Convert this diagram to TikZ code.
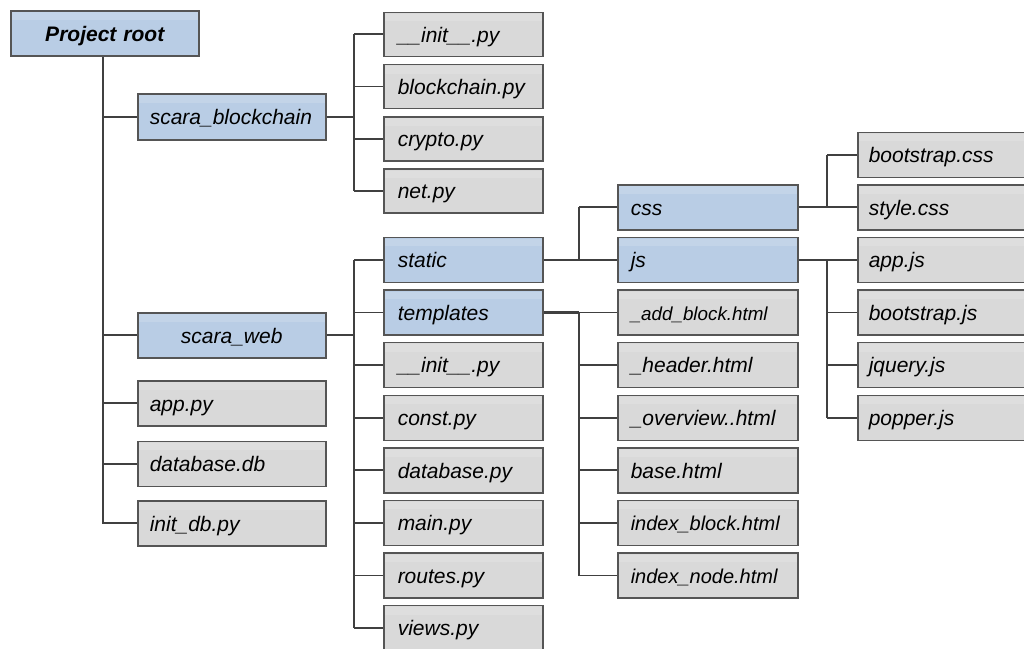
\documentclass[tikz,border=0pt]{standalone}
\usepackage{fontspec}
\setmainfont{Liberation Sans}
\definecolor{grayfill}{HTML}{D9D9D9}
\definecolor{bluefill}{HTML}{B9CDE5}
\definecolor{bordercol}{HTML}{555555}
\definecolor{linecol}{HTML}{404040}
\tikzset{
  box/.style={draw=bordercol, line width=1.5pt, anchor=north west, inner ysep=0pt,
    text height=15.5pt, text depth=0pt, minimum height=45pt,
    font=\fontsize{21}{24}\selectfont\itshape, align=left,
    path picture={\fill[white,opacity=0.15] ([yshift=-1.5pt]path picture bounding box.north west) rectangle ([yshift=-9pt]path picture bounding box.north east);}},
  gbox/.style={box, fill=grayfill},
  bbox/.style={box, fill=bluefill},
  colA/.style={inner xsep=12pt, text width=164pt},
  colAc/.style={inner xsep=12pt, text width=164pt, align=center},
  colB/.style={inner xsep=14pt, text width=131pt},
  colC/.style={inner xsep=13pt, text width=154pt},
  colD/.style={inner xsep=11pt, text width=158pt},
  conn/.style={draw=linecol, line width=1.8pt}
}
\begin{document}
\begin{tikzpicture}[x=1pt,y=-1pt]
\useasboundingbox (0,0) rectangle (1024,648);
\clip (0,0) rectangle (1024,648);
\fill[white] (0,0) rectangle (1024,648);
% root and first level
\node[bbox, colAc, font=\fontsize{21}{24}\selectfont\bfseries\itshape] (root) at (10,10) {Project root};
\node[bbox, colA, minimum height=46pt] (sb) at (137,93) {scara\_blockchain};
\node[bbox, colAc] (sw) at (137,312) {scara\_web};
\node[gbox, colA] (apppy) at (137,380) {app.py};
\node[gbox, colA] (dbdb) at (137,440.5) {database.db};
\node[gbox, colA] (initdb) at (137,500) {init\_db.py};
% scara_blockchain files
\node[gbox, colB, minimum height=44pt] (i1) at (383,11.5) {\_\_init\_\_.py};
\node[gbox, colB, minimum height=44pt] (bc) at (383,63.8) {blockchain.py};
\node[gbox, colB, minimum height=44pt] (cr) at (383,116.1) {crypto.py};
\node[gbox, colB, minimum height=44pt] (net) at (383,168.4) {net.py};
% scara_web content
\node[bbox, colB] (static) at (383,236.7) {static};
\node[bbox, colB] (templates) at (383,289.3) {templates};
\node[gbox, colB] (i2) at (383,341.9) {\_\_init\_\_.py};
\node[gbox, colB] (const) at (383,394.5) {const.py};
\node[gbox, colB] (dbpy) at (383,447.1) {database.py};
\node[gbox, colB] (main) at (383,499.7) {main.py};
\node[gbox, colB] (routes) at (383,552.3) {routes.py};
\node[gbox, colB] (views) at (383,604.9) {views.py};
% static / templates content
\node[bbox, colC] (css) at (617,184.1) {css};
\node[bbox, colC] (js) at (617,236.7) {js};
\node[gbox, colC, font=\fontsize{18.8}{22}\selectfont\itshape] (addb) at (617,289.3) {\_add\_block.html};
\node[gbox, colC] (header) at (617,341.9) {\_header.html};
\node[gbox, colC] (overview) at (617,394.5) {\_overview..html};
\node[gbox, colC] (base) at (617,447.1) {base.html};
\node[gbox, colC, font=\fontsize{20}{23}\selectfont\itshape] (iblock) at (617,499.7) {index\_block.html};
\node[gbox, colC, font=\fontsize{20}{23}\selectfont\itshape] (inode) at (617,552.3) {index\_node.html};
% css / js content
\node[gbox, colD] (bcss) at (857,131.5) {bootstrap.css};
\node[gbox, colD] (scss) at (857,184.1) {style.css};
\node[gbox, colD] (appjs) at (857,236.7) {app.js};
\node[gbox, colD] (bjs) at (857,289.3) {bootstrap.js};
\node[gbox, colD] (jq) at (857,341.9) {jquery.js};
\node[gbox, colD] (pop) at (857,394.5) {popper.js};
% branch x positions
\coordinate (tx) at (103,0);
\coordinate (bx1) at (354,0);
\coordinate (bx2) at (579,0);
\coordinate (bx4) at (827,0);
% trunk
\draw[conn] (root.south -| tx) -- (tx |- initdb.west) -- (initdb.west);
\foreach \n in {sb,sw,apppy,dbdb} \draw[conn] (tx |- \n.west) -- (\n.west);
% scara_blockchain
\draw[conn] (sb.east) -- (bx1 |- sb.east);
\draw[conn] (bx1 |- i1.west) -- (bx1 |- net.west);
\foreach \n in {i1,bc,cr,net} \draw[conn] (bx1 |- \n.west) -- (\n.west);
% scara_web
\draw[conn, line width=2.4pt] (sw.east) -- (bx1 |- sw.east);
\draw[conn] (bx1 |- static.west) -- (bx1 |- views.west);
\foreach \n in {static,templates,i2,const,dbpy,main,routes,views} \draw[conn] (bx1 |- \n.west) -- (\n.west);
% static
\draw[conn] (static.east) -- (bx2 |- static.east);
\draw[conn] (bx2 |- css.west) -- (bx2 |- js.west);
\foreach \n in {css,js} \draw[conn] (bx2 |- \n.west) -- (\n.west);
% templates
\draw[conn, line width=2.4pt] (templates.east) -- (bx2 |- templates.east);
\draw[conn, line width=2.4pt] (bx2 |- addb.west) -- (bx2 |- inode.west);
\foreach \n in {addb,header,overview,base,iblock,inode} \draw[conn] (bx2 |- \n.west) -- (\n.west);
% css
\draw[conn] (css.east) -- (bx4 |- css.east);
\draw[conn] (bx4 |- bcss.west) -- (bx4 |- scss.west);
\foreach \n in {bcss,scss} \draw[conn] (bx4 |- \n.west) -- (\n.west);
% js
\draw[conn] (js.east) -- (bx4 |- js.east);
\draw[conn] (bx4 |- appjs.west) -- (bx4 |- pop.west);
\foreach \n in {appjs,bjs,jq,pop} \draw[conn] (bx4 |- \n.west) -- (\n.west);
\end{tikzpicture}
\end{document}
